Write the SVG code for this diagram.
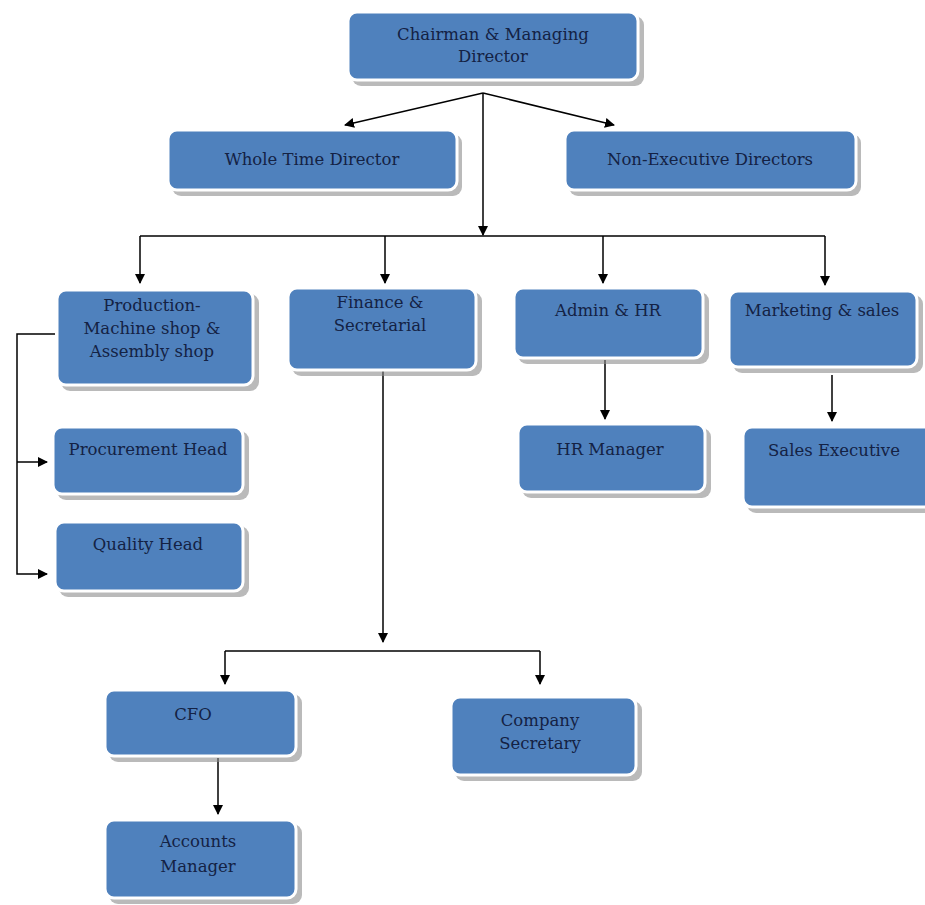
<svg xmlns="http://www.w3.org/2000/svg" width="925" height="905" viewBox="0 0 925 905">
<defs>
<style>
.box{fill:#4f81bd;stroke:#ffffff;stroke-width:3}
.sh{fill:#8c8c8c;opacity:0.6}
.t{font-family:"DejaVu Serif","Liberation Serif",serif;font-size:16.5px;fill:#142244;text-anchor:middle}
.c{fill:none;stroke:#000;stroke-width:1.5}
</style>
<marker id="ah" markerWidth="10" markerHeight="10" refX="9" refY="5" orient="auto" markerUnits="userSpaceOnUse">
<path d="M0,0 L10,5 L0,10 z" fill="#000"/>
</marker>
</defs>
<rect width="925" height="905" fill="#fff"/>

<g id="connectors">
<path class="c" d="M483,93 L345,125" marker-end="url(#ah)"/>
<path class="c" d="M483,93 L614,125" marker-end="url(#ah)"/>
<path class="c" d="M483,93 L483,235" marker-end="url(#ah)"/>
<path class="c" d="M140,236 L825,236"/>
<path class="c" d="M140,236 L140,283" marker-end="url(#ah)"/>
<path class="c" d="M385,236 L385,283" marker-end="url(#ah)"/>
<path class="c" d="M603,236 L603,283" marker-end="url(#ah)"/>
<path class="c" d="M825,236 L825,285" marker-end="url(#ah)"/>
<path class="c" d="M55,334 L17,334 L17,574 L47,574" marker-end="url(#ah)"/>
<path class="c" d="M17,462 L47,462" marker-end="url(#ah)"/>
<path class="c" d="M383,370 L383,642" marker-end="url(#ah)"/>
<path class="c" d="M225,651 L540,651"/>
<path class="c" d="M225,651 L225,684" marker-end="url(#ah)"/>
<path class="c" d="M540,651 L540,684" marker-end="url(#ah)"/>
<path class="c" d="M218,758 L218,814" marker-end="url(#ah)"/>
<path class="c" d="M605,360 L605,419" marker-end="url(#ah)"/>
<path class="c" d="M832,375 L832,421" marker-end="url(#ah)"/>
</g>

<g id="chairman">
<rect class="sh" x="352" y="16" width="292" height="70" rx="9"/>
<rect class="box" x="348" y="12" width="290" height="68" rx="9"/>
<text class="t" x="493" y="40">Chairman &amp; Managing</text>
<text class="t" x="493" y="62">Director</text>
</g>
<g id="wholetime">
<rect class="sh" x="172" y="134" width="290" height="62" rx="9"/>
<rect class="box" x="168" y="130" width="289" height="60" rx="9"/>
<text class="t" x="312" y="165">Whole Time Director</text>
</g>
<g id="nonexec">
<rect class="sh" x="569" y="134" width="292" height="62" rx="9"/>
<rect class="box" x="565" y="130" width="291" height="60" rx="9"/>
<text class="t" x="710" y="165">Non-Executive Directors</text>
</g>
<g id="production">
<rect class="sh" x="61" y="294" width="198" height="97" rx="9"/>
<rect class="box" x="57" y="290" width="196" height="95" rx="9"/>
<text class="t" x="152" y="311">Production-</text>
<text class="t" x="152" y="334">Machine shop &amp;</text>
<text class="t" x="152" y="357">Assembly shop</text>
</g>
<g id="finance">
<rect class="sh" x="292" y="292" width="190" height="84" rx="9"/>
<rect class="box" x="288" y="288" width="188" height="82" rx="9"/>
<text class="t" x="380" y="308">Finance &amp;</text>
<text class="t" x="380" y="331">Secretarial</text>
</g>
<g id="admin">
<rect class="sh" x="518" y="292" width="191" height="72" rx="9"/>
<rect class="box" x="514" y="288" width="189" height="70" rx="9"/>
<text class="t" x="608" y="316">Admin &amp; HR</text>
</g>
<g id="marketing">
<rect class="sh" x="733" y="295" width="190" height="78" rx="9"/>
<rect class="box" x="729" y="291" width="188" height="76" rx="9"/>
<text class="t" x="822" y="316">Marketing &amp; sales</text>
</g>
<g id="procurement">
<rect class="sh" x="57" y="431" width="192" height="69" rx="9"/>
<rect class="box" x="53" y="427" width="190" height="67" rx="9"/>
<text class="t" x="148" y="455">Procurement Head</text>
</g>
<g id="quality">
<rect class="sh" x="59" y="526" width="190" height="71" rx="9"/>
<rect class="box" x="55" y="522" width="188" height="69" rx="9"/>
<text class="t" x="148" y="550">Quality Head</text>
</g>
<g id="hrmanager">
<rect class="sh" x="522" y="428" width="189" height="70" rx="9"/>
<rect class="box" x="518" y="424" width="187" height="68" rx="9"/>
<text class="t" x="610" y="455">HR Manager</text>
</g>
<g id="salesexec">
<rect class="sh" x="747" y="431" width="190" height="82" rx="9"/>
<rect class="box" x="743" y="427" width="190" height="80" rx="9"/>
<text class="t" x="834" y="456">Sales Executive</text>
</g>
<g id="cfo">
<rect class="sh" x="109" y="694" width="193" height="68" rx="9"/>
<rect class="box" x="105" y="690" width="191" height="66" rx="9"/>
<text class="t" x="193" y="720">CFO</text>
</g>
<g id="compsec">
<rect class="sh" x="455" y="701" width="187" height="80" rx="9"/>
<rect class="box" x="451" y="697" width="185" height="78" rx="9"/>
<text class="t" x="540" y="726">Company</text>
<text class="t" x="540" y="749">Secretary</text>
</g>
<g id="accounts">
<rect class="sh" x="109" y="824" width="193" height="80" rx="9"/>
<rect class="box" x="105" y="820" width="191" height="78" rx="9"/>
<text class="t" x="198" y="847">Accounts</text>
<text class="t" x="198" y="872">Manager</text>
</g>
</svg>
